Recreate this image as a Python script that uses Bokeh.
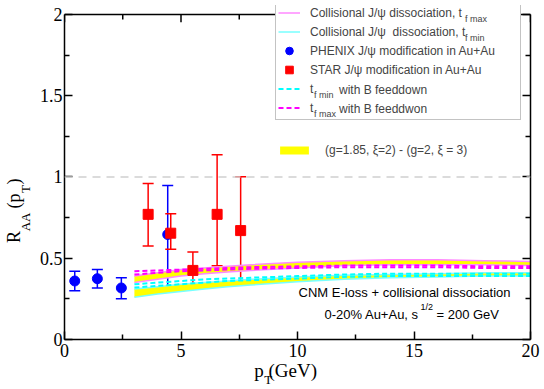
import math
from bokeh.plotting import figure
from bokeh.models import (Range1d, LinearAxis, FixedTicker, Span, Whisker, ColumnDataSource,
                          Legend, LegendItem, Label, TeeHead, CustomJSTickFormatter)
from bokeh.embed import file_html
from bokeh.resources import INLINE

# ---------------- data ----------------
pt_phenix = [0.44, 1.41, 2.44, 4.43]
raa_phenix = [0.36, 0.374, 0.317, 0.646]
phenix_hi = [0.42, 0.43, 0.38, 0.947]
phenix_lo = [0.30, 0.317, 0.25, 0.297]

pt_star = [3.59, 4.56, 5.51, 6.55, 7.56]
raa_star = [0.77, 0.654, 0.425, 0.77, 0.67]
star_hi = [0.96, 0.774, 0.538, 1.136, 1.002]
star_lo = [0.575, 0.555, 0.311, 0.453, 0.346]

pt_theory = [3, 4, 5, 6, 7, 8, 10, 12, 14, 16, 18, 20]
tmax_hi = [0.39, 0.41, 0.43, 0.44, 0.45, 0.46, 0.475, 0.485, 0.49, 0.49, 0.485, 0.48]
tmax_lo = [0.35, 0.37, 0.39, 0.405, 0.415, 0.425, 0.44, 0.455, 0.46, 0.46, 0.46, 0.455]
tmin_hi = [0.31, 0.325, 0.34, 0.35, 0.36, 0.37, 0.385, 0.395, 0.40, 0.405, 0.41, 0.41]
tmin_lo = [0.26, 0.28, 0.295, 0.31, 0.325, 0.335, 0.355, 0.37, 0.38, 0.385, 0.39, 0.39]
bmax_1 = [0.42, 0.425, 0.43, 0.435, 0.44, 0.445, 0.45, 0.455, 0.455, 0.455, 0.45, 0.45]
bmax_2 = [0.40, 0.41, 0.42, 0.425, 0.43, 0.435, 0.44, 0.445, 0.445, 0.445, 0.44, 0.44]
bmin_1 = [0.34, 0.35, 0.36, 0.37, 0.375, 0.38, 0.39, 0.40, 0.405, 0.405, 0.405, 0.405]
bmin_2 = [0.32, 0.33, 0.34, 0.35, 0.36, 0.365, 0.375, 0.385, 0.39, 0.39, 0.39, 0.39]

x_ticks = [0, 5, 10, 15, 20]
x_minor = [2.5, 7.5, 12.5, 17.5]
y_ticks = [0, 0.5, 1, 1.5, 2]
y_minor = [0.25, 0.75, 1.25, 1.75]
x_lim = (0, 20)
y_lim = (0, 2)

NB = "\u00a0"

# ---------------- figure ----------------
# The frame reaches 9 px above y=2 so the legend box may overlap the top border, as in the original.
L, R, T, B = 62, 14, 5, 47
W, H = 544, 389
FB = H - B                      # frame bottom pixel (342)
PPU = 164.0                     # pixels per unit of R_AA
y_top = y_lim[1] + 9 / PPU
p = figure(width=W, height=H, output_backend="svg", toolbar_location=None,
           x_range=Range1d(*x_lim), y_range=Range1d(y_lim[0], y_top),
           min_border_left=L, min_border_right=R, min_border_top=T, min_border_bottom=B)
p.xgrid.visible = False
p.ygrid.visible = False
p.outline_line_color = None
p.background_fill_color = "white"

fmt = CustomJSTickFormatter(code="return String(tick)")
nofmt = CustomJSTickFormatter(code="return ''")
serif = "Liberation Serif"
sans = "Liberation Sans"

def style_axis(ax, ticks, minor, show_labels, standoff=4, bounds="auto"):
    ax.ticker = FixedTicker(ticks=ticks, minor_ticks=minor)
    ax.bounds = bounds
    ax.major_tick_in = 8
    ax.major_tick_out = 0
    ax.minor_tick_in = 5
    ax.minor_tick_out = 0
    ax.axis_line_width = 1.5
    ax.major_tick_line_width = 1.5
    ax.minor_tick_line_width = 1.5
    if show_labels:
        ax.formatter = fmt
        ax.major_label_text_font = serif
        ax.major_label_text_font_size = "18px"
        ax.major_label_text_color = "black"
        ax.major_label_standoff = standoff
    else:
        ax.formatter = nofmt
        ax.major_label_standoff = 0

style_axis(p.xaxis[0], x_ticks, x_minor, True, 4)
style_axis(p.yaxis[0], y_ticks, y_minor, True, 2, y_lim)
ax_right = LinearAxis()
style_axis(ax_right, y_ticks, y_minor, False, 0, y_lim)
p.add_layout(ax_right, "right")

# top border of the graph at y = 2, with inward ticks
p.add_layout(Span(location=y_lim[1], dimension="width", line_color="black", line_width=1.5))
p.segment(x0=x_ticks, x1=x_ticks, y0=[y_lim[1]] * len(x_ticks), y1=[y_lim[1] - 8 / PPU] * len(x_ticks),
          line_color="black", line_width=1.5)
p.segment(x0=x_minor, x1=x_minor, y0=[y_lim[1]] * len(x_minor), y1=[y_lim[1] - 5 / PPU] * len(x_minor),
          line_color="black", line_width=1.5)

def title_axis(text, size, standoff, place):
    ax = LinearAxis(ticker=FixedTicker(ticks=[], minor_ticks=[]), formatter=nofmt,
                    axis_line_color=None, major_tick_line_color=None, minor_tick_line_color=None,
                    major_tick_out=0, major_tick_in=0, minor_tick_out=0, minor_tick_in=0,
                    major_label_standoff=0, axis_label=text, axis_label_standoff=standoff,
                    axis_label_text_font=serif, axis_label_text_font_size=f"{size}px",
                    axis_label_text_font_style="normal", axis_label_text_color="black")
    p.add_layout(ax, place)

# y title: R_AA (p_T) -- subscripts on an inner title axis, main letters on an outer one
title_axis("AA" + NB * 6 + "T" + NB * 22, 13, 4, "left")
title_axis("R" + NB * 5 + "(p" + NB * 2 + ")" + NB * 17, 18, -9, "left")
# x title: p_T(GeV)
title_axis("p" + NB + "(GeV)" + NB * 5, 19, 0, "below")
title_axis("T" + NB * 18, 13, -12, "below")

# reference line
p.add_layout(Span(location=1, dimension="width", line_color="#d0d0d0", line_width=1.5, line_dash="8 6"))

# ---------------- theory bands ----------------
th = ColumnDataSource(dict(x=pt_theory, tmax_hi=tmax_hi, tmax_lo=tmax_lo, tmin_hi=tmin_hi,
                           tmin_lo=tmin_lo, bmax_1=bmax_1, bmax_2=bmax_2, bmin_1=bmin_1, bmin_2=bmin_2))
r_band = p.varea(x="x", y1="tmax_lo", y2="tmax_hi", source=th, fill_color="#ffff00")
p.varea(x="x", y1="tmin_lo", y2="tmin_hi", source=th, fill_color="#ffff00")
pink = "#ff88ff"
lcyan = "#77ffff"
r_pink = p.line("x", "tmax_hi", source=th, line_color=pink, line_width=1.5)
p.line("x", "tmax_lo", source=th, line_color=pink, line_width=1.5)
r_cyan = p.line("x", "tmin_hi", source=th, line_color=lcyan, line_width=1.5)
p.line("x", "tmin_lo", source=th, line_color=lcyan, line_width=1.5)
r_bmin = p.line("x", "bmin_1", source=th, line_color="#00ffff", line_width=2, line_dash="5 3")
p.line("x", "bmin_2", source=th, line_color="#00ffff", line_width=2, line_dash="5 3")
r_bmax = p.line("x", "bmax_1", source=th, line_color="#ff00ff", line_width=2, line_dash="5 3")
p.line("x", "bmax_2", source=th, line_color="#ff00ff", line_width=2, line_dash="5 3")

# ---------------- data points ----------------
ph = ColumnDataSource(dict(x=pt_phenix, y=raa_phenix, hi=phenix_hi, lo=phenix_lo))
st = ColumnDataSource(dict(x=pt_star, y=raa_star, hi=star_hi, lo=star_lo))
for src, col in ((ph, "#0000ff"), (st, "#ff0000")):
    p.add_layout(Whisker(base="x", upper="hi", lower="lo", source=src, line_color=col, line_width=1.5,
                         upper_head=TeeHead(size=11, line_color=col, line_width=1.5),
                         lower_head=TeeHead(size=11, line_color=col, line_width=1.5)))
r_ph = p.scatter("x", "y", source=ph, marker="circle", size=10, fill_color="#0000ff", line_color="#0000ff")
r_st = p.scatter("x", "y", source=st, marker="square", size=10, fill_color="#ff0000", line_color="#ff0000")

# invisible renderer used as the key of pure-text legends
r_blank = p.line(x=[], y=[], line_alpha=0)

# ---------------- legends ----------------
leg = Legend(items=[
    LegendItem(label="Collisional J/ψ dissociation, t", renderers=[r_pink]),
    LegendItem(label="Collisional J/ψ" + NB + " dissociation, t", renderers=[r_cyan]),
    LegendItem(label="PHENIX J/ψ modification in Au+Au", renderers=[r_ph]),
    LegendItem(label="STAR J/ψ modification in Au+Au", renderers=[r_st]),
    LegendItem(label="t", renderers=[r_bmin]),
    LegendItem(label="t", renderers=[r_bmax]),
], location=(273 - L, FB - 123), orientation="vertical", padding=2, spacing=0, margin=0,
    glyph_width=22, glyph_height=19, label_height=19, label_width=208, label_standoff=10,
    label_text_font=sans, label_text_font_size="12px",
    border_line_color="#888888", border_line_width=1, background_fill_color="white", background_fill_alpha=1.0)
p.add_layout(leg)

def text_legend(labels, left_px, top_px, size, font, row_h):
    n = len(labels)
    lg = Legend(items=[LegendItem(label=t, renderers=[r_blank]) for t in labels],
                location=(left_px - L, FB - (top_px + n * row_h)), orientation="vertical",
                padding=0, spacing=0, margin=0, glyph_width=1, glyph_height=row_h, label_height=row_h,
                label_standoff=0, label_text_font=font, label_text_font_size=f"{size}px",
                label_text_baseline="middle", border_line_color=None, background_fill_alpha=0.0)
    p.add_layout(lg)

# legend subscripts and continuations
text_legend(["f max", "f min"], 462, 12, 9, sans, 19)
text_legend(["f min", "f max"], 311, 88, 9, sans, 19)
text_legend(["with B feeddown", "with B feeddwon"], 336, 83, 12, sans, 19)

leg2 = Legend(items=[LegendItem(label="(g=1.85, ξ=2) - (g=2, ξ = 3)", renderers=[r_band])],
              location=(274 - L, FB - 160), padding=0, margin=0, glyph_width=36, glyph_height=10,
              label_height=10, label_standoff=13, label_text_font=sans, label_text_font_size="12px",
              border_line_color=None, background_fill_alpha=0.0)
p.add_layout(leg2)

def lab(text, px, py, size, font=sans):
    p.add_layout(Label(x=px - L, y=FB - py, x_units="screen", y_units="screen", text=text,
                       text_font=font, text_font_size=f"{size}px",
                       text_align="left", text_baseline="middle", text_color="black"))

# annotation text
lab("CNM E-loss + collisional dissociation", 296, 295, 13)
lab("0-20% Au+Au, s", 322, 317, 13)
lab("1/2", 418, 309, 9)
lab("= 200 GeV", 434, 317, 13)

open("out.html", "w").write(file_html(p, INLINE))
